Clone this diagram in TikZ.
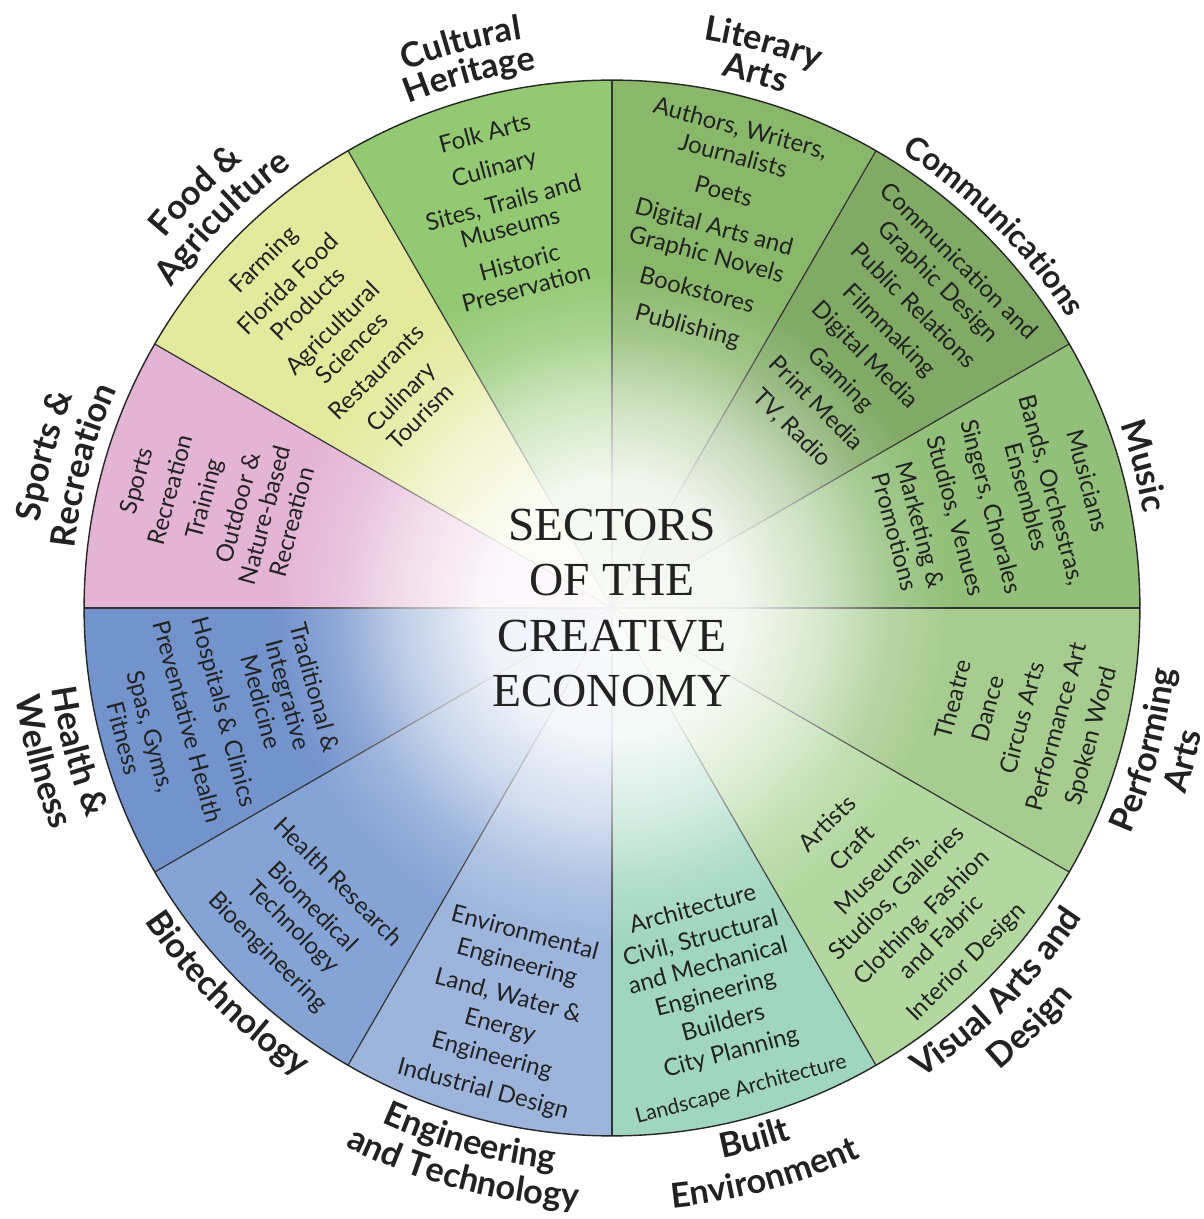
\documentclass[tikz,border=0pt]{standalone}
\usepackage{fontspec}
\setmainfont{Lato}
\newfontfamily\titlefont{Liberation Serif}
\usetikzlibrary{fadings}
\definecolor{cHer}{HTML}{93C973}
\definecolor{cLit}{HTML}{8AB86B}
\definecolor{cCom}{HTML}{80AA65}
\definecolor{cMus}{HTML}{92BF79}
\definecolor{cPer}{HTML}{A7CC8F}
\definecolor{cVis}{HTML}{B3D89F}
\definecolor{cBui}{HTML}{A0D6C0}
\definecolor{cEng}{HTML}{9DB5DD}
\definecolor{cBio}{HTML}{85A3D5}
\definecolor{cHea}{HTML}{7393CD}
\definecolor{cSpo}{HTML}{E4B4D5}
\definecolor{cFoo}{HTML}{E4EA9D}
\definecolor{inkc}{HTML}{222222}
\pgfdeclareradialshading{glowshade}{\pgfpointorigin}{color(0bp)=(white!94!black); color(6bp)=(white!89!black); color(10bp)=(white!55!black); color(13bp)=(white!20!black); color(16bp)=(black); color(50bp)=(black)}
\pgfdeclarefading{glowfade}{\pgfuseshading{glowshade}}
\newcommand\sector[3]{\fill[#1] (0,0) -- (#2:528) arc[start angle=#2,end angle=#3,radius=10.56cm] -- cycle;}
% curved outer labels, one character node at a time
\def\lblsize{19.5}
\newcommand\lblfont{\bfseries\fontsize{\lblsize}{20}\selectfont}
\newcounter{lcn}
\newcommand\measurew[1]{%
  \node[inner sep=0pt,outer sep=0pt,font=\lblfont,anchor=base west] (mw) at (0,0) {\phantom{#1}};%
  \pgfpointdiff{\pgfpointanchor{mw}{base west}}{\pgfpointanchor{mw}{base east}}%
  \pgfgetlastxy{\mwx}{\mwy}%
  \pgfmathsetmacro\mwv{\mwx}}
\newcommand\curvelbl[4]{% mid angle, baseline radius (px), dir (1 = clockwise upper, -1 = lower), text (~ = space)
  \def\cmid{#1}\def\crad{#2}\def\cdir{#3}%
  \measurew{#4}%
  \pgfmathsetmacro\cpos{-0.5*\mwv}%
  \pgfmathsetmacro\crpt{#2*0.569055}%
  \curvechars#4\relax}
\def\curvechars#1{\ifx\relax#1\else\curveone{#1}\expandafter\curvechars\fi}
\newcommand\curveone[1]{%
  \measurew{#1}%
  \pgfmathsetmacro\cw{\mwv}%
  \pgfmathsetmacro\cang{\cmid-\cdir*(\cpos+0.5*\cw)/\crpt*180/pi}%
  \pgfmathsetmacro\crot{\cang-\cdir*90}%
  \ifx~#1\else\stepcounter{lcn}\node[anchor=base,inner sep=0pt,rotate=\crot,text=inkc,font=\lblfont] (lc\arabic{lcn}) at (\cang:\crad) {#1};\fi
  \pgfmathsetmacro\cpos{\cpos+\cw}}
\begin{document}
\begin{tikzpicture}[x=0.02cm,y=0.02cm,
  sectxt/.style={align=center,text=inkc,inner sep=0pt},
  divider/.style={draw=black!80,line width=0.7pt}]
\useasboundingbox (-612,-611) rectangle (591,608);
% sectors
\sector{cLit}{60}{90}
\sector{cCom}{30}{60}
\sector{cMus}{0}{30}
\sector{cPer}{-30}{0}
\sector{cVis}{-60}{-30}
\sector{cBui}{-90}{-60}
\sector{cEng}{-120}{-90}
\sector{cBio}{-150}{-120}
\sector{cHea}{-180}{-150}
\sector{cSpo}{150}{180}
\sector{cFoo}{120}{150}
\sector{cHer}{90}{120}
\foreach \a in {0,30,...,330} \draw[divider] (0,0) -- (\a:528);
% white glow
\fill[white,path fading=glowfade] (0,0) circle[radius=10.56cm];
\draw[black!85,line width=0.8pt] (0,0) circle[radius=10.56cm];
% sector texts
\node[sectxt,rotate=15,font=\fontsize{13.6}{14.8}\selectfont] (her) at (105:412) {Folk Arts\\[5.7pt] Culinary\\[5.7pt] Sites, Trails and\\ Museums\\[5.7pt] Historic\\ Preservation};
\node[sectxt,rotate=-15,font=\fontsize{13.6}{16.2}\selectfont] (lit) at (75:393) {Authors, Writers,\\ Journalists\\[4.8pt] Poets\\[4.8pt] Digital Arts and\\ Graphic Novels\\[4.8pt] Bookstores\\[4.8pt] Publishing};
\node[sectxt,rotate=-45,font=\fontsize{13.6}{16.5}\selectfont] (com) at (45:372) {Communication and\\ Graphic Design\\[3.1pt] Public Relations\\[3.1pt] Filmmaking\\[3.1pt] Digital Media\\[3.1pt] Gaming\\[3.1pt] Print Media\\[3.1pt] TV, Radio};
\node[sectxt,rotate=-75,font=\fontsize{13.6}{15}\selectfont] (mus) at (15:393) {Musicians\\[5.9pt] Bands, Orchestras,\\ Ensembles\\[5.9pt] Singers, Chorales\\[5.9pt] Studios, Venues\\[5.9pt] Marketing \&\\ Promotions};
\node[sectxt,rotate=75,font=\fontsize{13.6}{15.9}\selectfont] (per) at (-15:426) {Theatre\\[4.3pt] Dance\\[4.3pt] Circus Arts\\[4.3pt] Performance Art\\[4.3pt] Spoken Word};
\node[sectxt,rotate=45,font=\fontsize{13.6}{15.9}\selectfont] (vis) at (-45:404) {Artists\\[4pt] Craft\\[4pt] Museums,\\ Studios, Galleries\\[4pt] Clothing, Fashion\\ and Fabric\\[4pt] Interior Design};
\node[sectxt,rotate=15,font=\fontsize{13.6}{16.2}\selectfont] (bui) at (-75:405) {Architecture\\[1.1pt] Civil, Structural\\ and Mechanical\\ Engineering\\[1.1pt] Builders\\[1.1pt] City Planning\\[5pt] {\fontsize{12}{13}\selectfont Landscape Architecture}};
\node[sectxt,rotate=-15,font=\fontsize{13.6}{17.6}\selectfont] (eng) at (-105:418) {Environmental\\ Engineering\\[2pt] Land, Water \&\\ Energy\\ Engineering\\[2pt] Industrial Design};
\node[sectxt,rotate=-45,font=\fontsize{13.6}{15.9}\selectfont] (bio) at (-135:438) {Health Research\\[4.3pt] Biomedical\\ Technology\\[4.3pt] Bioengineering};
\node[sectxt,rotate=-75,font=\fontsize{13.6}{15.9}\selectfont] (hea) at (-165:406) {Traditional \&\\ Integrative\\ Medicine\\[5.7pt] Hospitals \& Clinics\\[5.7pt] Preventative Health\\[5.7pt] Spas, Gyms,\\ Fitness};
\node[sectxt,rotate=75,font=\fontsize{13.6}{15.9}\selectfont] (spo) at (165:412) {Sports\\[4pt] Recreation\\[4pt] Training\\[4pt] Outdoor \&\\ Nature-based\\ Recreation};
\node[sectxt,rotate=45,font=\fontsize{13.6}{15.9}\selectfont] (foo) at (135:382) {Farming\\[3.8pt] Florida Food\\ Products\\[3.8pt] Agricultural\\ Sciences\\[3.8pt] Restaurants\\[3.8pt] Culinary\\ Tourism};
% title
\node[align=center,text=inkc,inner sep=0pt,font=\titlefont\fontsize{27}{31.6}\selectfont] (title) at (0,0) {SECTORS\\OF THE\\CREATIVE\\ECONOMY};
% outer labels (curved)
\curvelbl{105}{576}{1}{Cultural}
\curvelbl{105}{544}{1}{Heritage}
\curvelbl{75}{576}{1}{Literary}
\curvelbl{75}{543}{1}{Arts}
{\def\lblsize{18}\curvelbl{45}{540}{1}{Communications}}
\curvelbl{15}{540}{1}{Music}
\curvelbl{135}{580}{1}{Food~\&}
\curvelbl{135}{545}{1}{Agriculture}
\curvelbl{165}{579}{1}{Sports~\&}
\curvelbl{165}{541}{1}{Recreation}
\curvelbl{-15}{566}{-1}{Performing}
\curvelbl{-15}{603}{-1}{Arts}
\curvelbl{-45}{563}{-1}{Visual~Arts~and}
\curvelbl{-45}{603}{-1}{Design}
\curvelbl{-75}{561}{-1}{Built}
\curvelbl{-75}{603}{-1}{Environment}
\curvelbl{-105}{564}{-1}{Engineering}
\curvelbl{-105}{601}{-1}{and~Technology}
\curvelbl{-135}{563}{-1}{Biotechnology}
\curvelbl{-165}{566}{-1}{Health~\&}
\curvelbl{-165}{603}{-1}{Wellness}
\end{tikzpicture}
\end{document}
